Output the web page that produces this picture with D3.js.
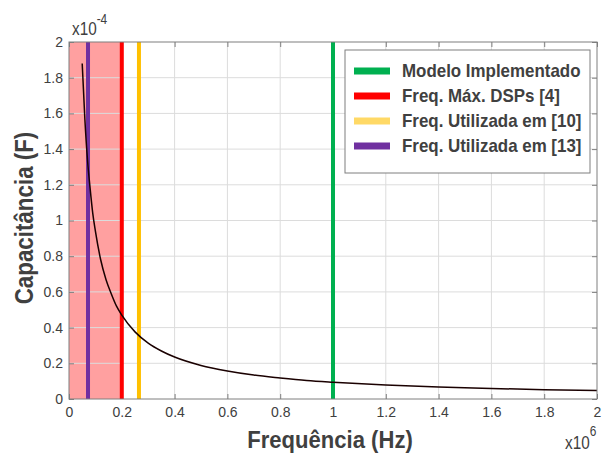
<!DOCTYPE html>
<html>
<head>
<meta charset="utf-8">
<script src="https://cdn.jsdelivr.net/npm/d3@7"></script>
<style>
  body { margin: 0; background: #fff; }
  text { fill: #404040; }
</style>
</head>
<body>
<script>
// frequencia (x10^6 Hz) e capacitancia (x10^-4 F)
let freq = [0.05, 0.06, 0.07, 0.08, 0.09, 0.1, 0.12, 0.14, 0.16, 0.18, 0.2, 0.25, 0.3, 0.35, 0.4, 0.5, 0.6, 0.7, 0.8, 0.9, 1.0, 1.2, 1.4, 1.6, 1.8, 2.0];
let cap = [1.88, 1.57, 1.34, 1.18, 1.04, 0.94, 0.78, 0.67, 0.59, 0.52, 0.47, 0.376, 0.313, 0.269, 0.235, 0.188, 0.157, 0.134, 0.118, 0.104, 0.094, 0.078, 0.067, 0.059, 0.052, 0.047];
let marcadores = ["Modelo Implementado", "Freq. Máx. DSPs [4]", "Freq. Utilizada em [10]", "Freq. Utilizada em [13]"];
let freqMarcadores = [1.0, 0.2, 0.265, 0.072];
let coresLinha = ["#00b050", "#ff0000", "#ffc000", "#7030a0"];
let coresLegenda = ["#00b050", "#ff0000", "#ffd966", "#7030a0"];
let faixaVermelha = [0, 0.2];
let xTicks = [0, 0.2, 0.4, 0.6, 0.8, 1, 1.2, 1.4, 1.6, 1.8, 2];
let yTicks = [0, 0.2, 0.4, 0.6, 0.8, 1, 1.2, 1.4, 1.6, 1.8, 2];

let width = 605;
let height = 454;
let mLeft = 69, mRight = 597, mTop = 42, mBottom = 399;

let x = d3.scaleLinear().domain([0, 2]).range([mLeft, mRight]);
let y = d3.scaleLinear().domain([0, 2]).range([mBottom, mTop]);

let svg = d3.select("body").append("svg").attr("width", width).attr("height", height);
let font = "'Liberation Sans', Arial, sans-serif";

// faixa vermelha
svg.append("rect")
    .attr("x", x(faixaVermelha[0]))
    .attr("y", mTop)
    .attr("width", x(faixaVermelha[1]) - x(faixaVermelha[0]))
    .attr("height", mBottom - mTop)
    .attr("fill", "#ffa0a0");

// grade
svg.append("g").selectAll("line").data(xTicks.slice(1, -1)).enter().append("line")
    .attr("x1", (d) => x(d)).attr("x2", (d) => x(d))
    .attr("y1", mTop).attr("y2", mBottom)
    .attr("stroke", "#dcdcdc").attr("stroke-width", 1);
svg.append("g").selectAll("line").data(yTicks.slice(1, -1)).enter().append("line")
    .attr("x1", mLeft).attr("x2", mRight)
    .attr("y1", (d) => y(d)).attr("y2", (d) => y(d))
    .attr("stroke", "#dcdcdc").attr("stroke-width", 1);

// eixos (ticks para dentro)
let xAxisB = d3.axisBottom(x).tickValues(xTicks).tickSize(-5).tickPadding(8).tickFormat(d3.format("~g"));
let xAxisT = d3.axisTop(x).tickValues(xTicks).tickSize(-5).tickFormat("");
let yAxisL = d3.axisLeft(y).tickValues(yTicks).tickSize(-5).tickPadding(6).tickFormat(d3.format("~g"));
let yAxisR = d3.axisRight(y).tickValues(yTicks).tickSize(-5).tickFormat("");

function estilo(g) {
    g.select(".domain").remove();
    g.selectAll(".tick line").attr("stroke", "#7f7f7f");
    g.selectAll(".tick text").attr("font-family", font).attr("font-size", 14).attr("fill", "#262626");
}
svg.append("g").attr("transform", `translate(0,${mBottom})`).call(xAxisB).call(estilo);
svg.append("g").attr("transform", `translate(0,${mTop})`).call(xAxisT).call(estilo);
svg.append("g").attr("transform", `translate(${mLeft},0)`).call(yAxisL).call(estilo);
svg.append("g").attr("transform", `translate(${mRight},0)`).call(yAxisR).call(estilo);

// linhas verticais
svg.append("g").selectAll("line").data(freqMarcadores).enter().append("line")
    .attr("x1", (d) => x(d)).attr("x2", (d) => x(d))
    .attr("y1", mTop).attr("y2", mBottom)
    .attr("stroke", (d, i) => coresLinha[i])
    .attr("stroke-width", 4);

// curva
let pontos = freq.map((f, i) => [f, cap[i]]);
svg.append("path")
    .datum(pontos)
    .attr("d", d3.line().x((d) => x(d[0])).y((d) => y(d[1])).curve(d3.curveMonotoneX))
    .attr("fill", "none")
    .attr("stroke", "#1a0000")
    .attr("stroke-width", 1.5);

// borda
svg.append("rect")
    .attr("x", mLeft).attr("y", mTop)
    .attr("width", mRight - mLeft).attr("height", mBottom - mTop)
    .attr("fill", "none").attr("stroke", "#7f7f7f").attr("stroke-width", 1);

// legenda
let leg = svg.append("g");
leg.append("rect")
    .attr("x", 345).attr("y", 50).attr("width", 245).attr("height", 123)
    .attr("fill", "#fff").attr("stroke", "#7f7f7f").attr("stroke-width", 1);
marcadores.forEach((m, i) => {
    let cy = 71 + i * 25;
    leg.append("line")
        .attr("x1", 354).attr("x2", 390).attr("y1", cy).attr("y2", cy)
        .attr("stroke", coresLegenda[i]).attr("stroke-width", 7);
    leg.append("text")
        .attr("transform", `translate(402,${cy + 6}) scale(0.94,1)`)
        .attr("font-family", font).attr("font-weight", "bold").attr("font-size", 18)
        .text(m);
});

// multiplicadores
let m1 = svg.append("text").attr("transform", "translate(72,35) scale(0.85,1)")
    .attr("font-family", font).attr("font-size", 18);
m1.append("tspan").text("x10");
m1.append("tspan").attr("dy", -11).attr("font-size", 14).text("-4");

let m2 = svg.append("text").attr("transform", "translate(565,449) scale(0.85,1)")
    .attr("font-family", font).attr("font-size", 18);
m2.append("tspan").text("x10");
m2.append("tspan").attr("dy", -13).attr("font-size", 14).text("6");

// titulos dos eixos
svg.append("text")
    .attr("transform", "translate(330,448) scale(0.92,1)")
    .attr("text-anchor", "middle")
    .attr("font-family", font).attr("font-weight", "bold").attr("font-size", 24)
    .text("Frequência (Hz)");
svg.append("text")
    .attr("transform", "translate(33,218) rotate(-90) scale(0.86,1)")
    .attr("text-anchor", "middle")
    .attr("font-family", font).attr("font-weight", "bold").attr("font-size", 26)
    .text("Capacitância (F)");
</script>
</body>
</html>
